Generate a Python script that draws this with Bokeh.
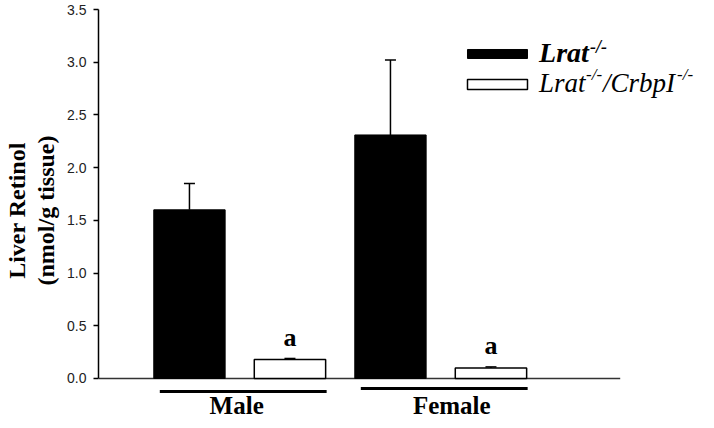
from bokeh.plotting import figure
from bokeh.models import (Range1d, LinearAxis, FixedTicker, PrintfTickFormatter,
                          Whisker, ColumnDataSource, TeeHead)
from bokeh.core.properties import value
from bokeh.embed import file_html
from bokeh.resources import INLINE

# ---------------- data ----------------
groups = ["Male", "Female"]
lrat = [1.60, 2.31]            # Lrat-/-
lrat_err = [0.25, 0.71]
dko = [0.18, 0.10]             # Lrat-/-/CrbpI-/-
dko_err = [0.01, 0.01]
sig_marks = ["a", "a"]
y_ticks = [0.0, 0.5, 1.0, 1.5, 2.0, 2.5, 3.0, 3.5]

# ---------------- layout constants ----------------
FIG_H = 420
X_START, X_END = -0.905, 5.065
Y_START, Y_END = -0.3984, 3.5854
FRAME_W, FRAME_H = 606, FIG_H
XS = FRAME_W / (X_END - X_START)   # px per x unit
YS = FRAME_H / (Y_END - Y_START)   # px per y unit
BAR_W = 0.71
AXIS_X_END = 4.286
SERIF = "Liberation Serif"

x_black = [2 * i for i in range(len(groups))]
x_white = [2 * i + 1 for i in range(len(groups))]

p = figure(width=698, height=FIG_H, output_backend="svg", toolbar_location=None,
           x_range=Range1d(X_START, X_END), y_range=Range1d(Y_START, Y_END),
           x_axis_location=None, y_axis_location=None,
           min_border_left=92, min_border_right=0, min_border_top=0, min_border_bottom=0)
p.outline_line_color = None
p.xgrid.visible = False
p.ygrid.visible = False
p.background_fill_color = "white"

# y axis
yaxis = LinearAxis(bounds=(0, 3.5), ticker=FixedTicker(ticks=y_ticks),
                   formatter=PrintfTickFormatter(format="%.1f"))
yaxis.axis_line_color = "black"
yaxis.axis_line_width = 1.5
yaxis.major_tick_line_color = "black"
yaxis.major_tick_line_width = 1.5
yaxis.major_tick_in = 0
yaxis.major_tick_out = 5
yaxis.minor_tick_line_color = None
yaxis.major_label_standoff = 7
yaxis.major_label_text_font = "Liberation Sans"
yaxis.major_label_text_font_size = "14px"
yaxis.major_label_text_color = "#222222"
yaxis.axis_label = "Liver Retinol\n(nmol/g tissue)"
yaxis.axis_label_text_font = SERIF
yaxis.axis_label_text_font_style = "bold"
yaxis.axis_label_text_font_size = "24px"
yaxis.axis_label_text_line_height = 1.12
yaxis.axis_label_text_color = "black"
yaxis.axis_label_standoff = 5
p.add_layout(yaxis, "left")

# x axis line at y = 0
p.segment(x0=[X_START], y0=[0], x1=[AXIS_X_END], y1=[0], line_color="#333333", line_width=1.6)

# bars
p.vbar(x=x_black, top=lrat, width=BAR_W, fill_color="black", line_color="black", line_width=1)
p.vbar(x=x_white, top=dko, width=BAR_W, fill_color="white", line_color="black", line_width=1.5)

# error bars (upper only)
err_src = ColumnDataSource(dict(
    x=x_black + x_white,
    lower=lrat + dko,
    upper=[v + e for v, e in zip(lrat, lrat_err)] + [v + e for v, e in zip(dko, dko_err)],
))
p.add_layout(Whisker(source=err_src, base="x", lower="lower", upper="upper",
                     dimension="height", line_color="black", line_width=1.5,
                     lower_head=None,
                     upper_head=TeeHead(size=11, line_color="black", line_width=1.5)))

# significance letters
p.text(x=x_white, y=[v + e + 21 / YS for v, e in zip(dko, dko_err)], text=sig_marks,
       text_align="center", text_baseline="middle", text_font=value(SERIF),
       text_font_style="bold", text_font_size="26px", text_color="black")

# group underlines and labels
line_x0 = [xb - BAR_W / 2 + 0.06 for xb in x_black]
line_x1 = [xw + BAR_W / 2 + 0.01 for xw in x_white]
line_y = [-13 / YS, -10 / YS]
p.segment(x0=line_x0, y0=line_y, x1=line_x1, y1=line_y, line_color="black", line_width=3)
label_x = [0.47, 2.61]
p.text(x=label_x, y=[-27 / YS] * len(groups), text=groups, text_align="center",
       text_baseline="middle", text_font=value(SERIF), text_font_style="bold",
       text_font_size="25px", text_color="black")

# legend (drawn manually to allow superscripts)
LEG_X = 3.065            # swatch centre (data x)
LEG_Y1 = 324.5 / YS      # 53.5 px from top
LEG_Y2 = 294.0 / YS      # 84 px from top
p.rect(x=[LEG_X], y=[LEG_Y1], width=60, height=9, width_units="screen", height_units="screen",
       fill_color="black", line_color="black")
p.rect(x=[LEG_X], y=[LEG_Y2], width=60, height=10, width_units="screen", height_units="screen",
       fill_color="white", line_color="black", line_width=1.5)
TX = LEG_X + 42 / XS
mid1 = LEG_Y1 + 1.5 / YS
mid2 = LEG_Y2 + 1 / YS
sup1 = LEG_Y1 + 7 / YS
sup2 = LEG_Y2 + 10 / YS
common = dict(text_font=value(SERIF), text_baseline="middle", text_color="black")
p.text(x=[TX], y=[mid1], text=["Lrat"], text_font_style="bold italic",
       text_font_size="28px", **common)
p.text(x=[TX], y=[sup1], text=["-/-"], x_offset=51, text_font_style="bold italic",
       text_font_size="18px", **common)
p.text(x=[TX], y=[mid2], text=["Lrat"], text_font_style="italic",
       text_font_size="27px", **common)
p.text(x=[TX], y=[sup2], text=["-/-"], x_offset=47, text_font_style="italic",
       text_font_size="17px", **common)
p.text(x=[TX], y=[mid2], text=["/CrbpI"], x_offset=64, text_font_style="italic",
       text_font_size="27px", **common)
p.text(x=[TX], y=[sup2], text=["-/-"], x_offset=138, text_font_style="italic",
       text_font_size="17px", **common)

open("out.html", "w").write(file_html(p, INLINE))
